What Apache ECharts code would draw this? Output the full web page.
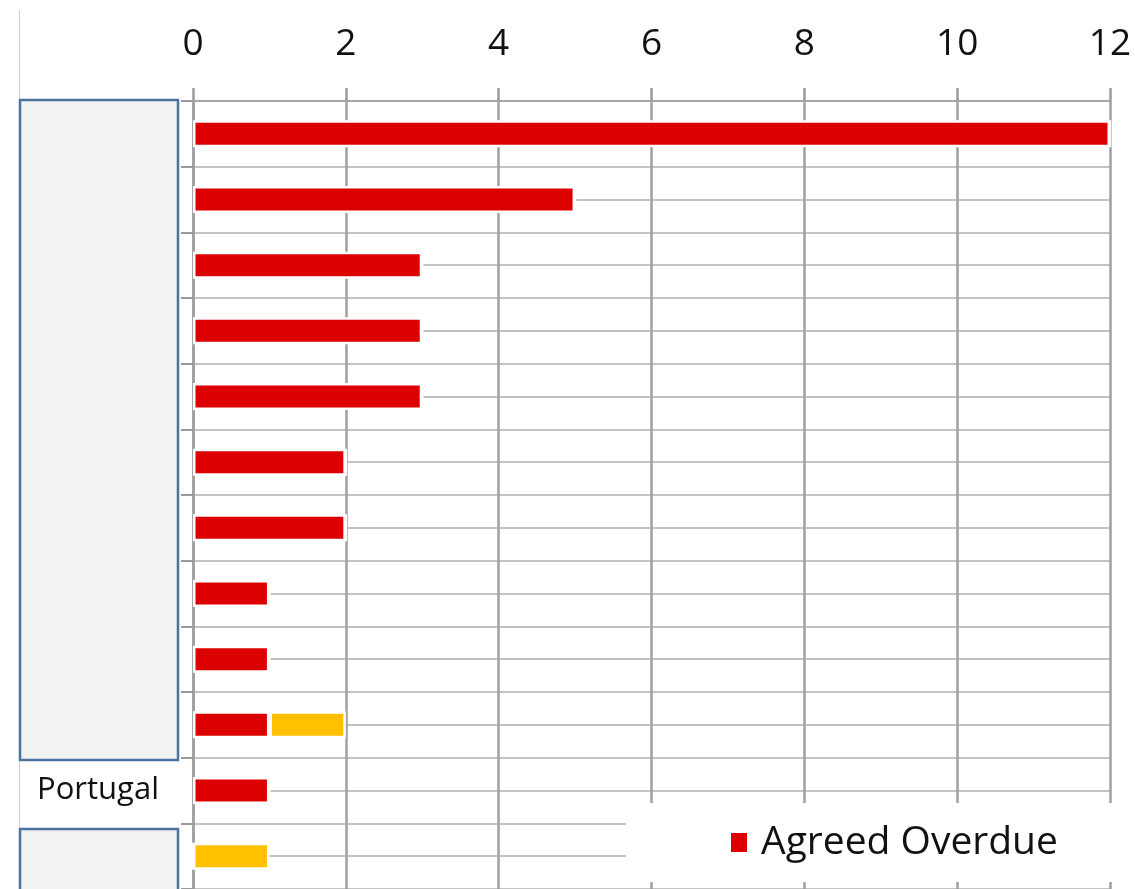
<!DOCTYPE html>
<html>
<head>
<meta charset="utf-8">
<script src="https://cdn.jsdelivr.net/npm/echarts@6/dist/echarts.min.js"></script>
<style>
  html, body { margin: 0; padding: 0; background: #ffffff; }
  #chart { width: 1135px; height: 889px; }
</style>
</head>
<body>
<div id="chart"></div>
<script>
// Categories, top to bottom (only Portugal is legible; the rest are masked)
const categories = ['', '', '', '', '', '', '', '', '', '', 'Portugal', ''];
// Agreed overdue counts per category
const agreedOverdue = [12, 5, 3, 3, 3, 2, 2, 1, 1, 1, 1, 0];
// Second stacked series (amber)
const otherOverdue = [0, 0, 0, 0, 0, 0, 0, 0, 0, 1, 0, 1];
// Value axis ticks
const xTicks = [0, 2, 4, 6, 8, 10, 12];

const FONT = '"Open Sans"';
const chart = echarts.init(document.getElementById('chart'), null, { renderer: 'canvas' });

chart.setOption({
  backgroundColor: '#ffffff',
  animation: false,
  grid: { left: 193, top: 101, width: 917, height: 789, containLabel: false },
  xAxis: {
    type: 'value',
    position: 'top',
    min: xTicks[0],
    max: xTicks[xTicks.length - 1],
    interval: xTicks[1] - xTicks[0],
    axisLine: { show: true, lineStyle: { color: '#a6a6a6', width: 2 } },
    axisTick: { show: true, inside: false, length: 13, lineStyle: { color: '#9a9a9a', width: 2.5 } },
    splitLine: { show: true, lineStyle: { color: '#9f9f9f', width: 2.5 } },
    axisLabel: { color: '#111', fontFamily: FONT, fontSize: 37, margin: 38 }
  },
  yAxis: [
    {
      type: 'category',
      data: categories,
      inverse: true,
      axisLine: { show: true, lineStyle: { color: '#9f9f9f', width: 2.5 } },
      axisTick: { show: true, length: 12, lineStyle: { color: '#9a9a9a', width: 2 } },
      splitLine: { show: false },
      axisLabel: { color: '#111', fontFamily: FONT, fontSize: 31, align: 'center', margin: 95 }
    },
    {
      // half-band grid lines (band edges and band centres)
      type: 'value',
      min: 0,
      max: categories.length * 2,
      interval: 1,
      inverse: true,
      axisLine: { show: false },
      axisTick: { show: false },
      axisLabel: { show: false },
      splitLine: { show: true, lineStyle: { color: '#c3c3c3', width: 2 } }
    }
  ],
  legend: {
    data: ['Agreed Overdue'],
    left: 626,
    top: 803,
    itemWidth: 18,
    itemHeight: 21,
    itemGap: 20,
    icon: 'rect',
    backgroundColor: '#ffffff',
    padding: [20, 80, 20, 103],
    textStyle: { color: '#111', fontFamily: FONT, fontSize: 39, padding: [0, 0, 0, 8] }
  },
  series: [
    {
      name: 'Agreed Overdue',
      type: 'bar',
      stack: 'total',
      yAxisIndex: 0,
      barWidth: 27,
      z: 3,
      itemStyle: { color: '#dd0000', borderColor: '#ffffff', borderWidth: 2.5 },
      data: agreedOverdue
    },
    {
      name: 'Other Overdue',
      type: 'bar',
      stack: 'total',
      yAxisIndex: 0,
      barWidth: 27,
      z: 3,
      itemStyle: { color: '#ffc000', borderColor: '#ffffff', borderWidth: 2.5 },
      data: otherOverdue
    }
  ],
  graphic: [
    { type: 'line', shape: { x1: 19.5, y1: 10, x2: 19.5, y2: 889 }, style: { stroke: '#cfcfcf', lineWidth: 1 }, z: 50 },
    { type: 'rect', shape: { x: 20, y: 100, width: 158, height: 660 }, style: { fill: '#f2f2f2', stroke: '#4a74a0', lineWidth: 2.5 }, z: 60 },
    { type: 'rect', shape: { x: 20, y: 829, width: 158, height: 70 }, style: { fill: '#f2f2f2', stroke: '#4a74a0', lineWidth: 2.5 }, z: 60 }
  ]
});
</script>
</body>
</html>
